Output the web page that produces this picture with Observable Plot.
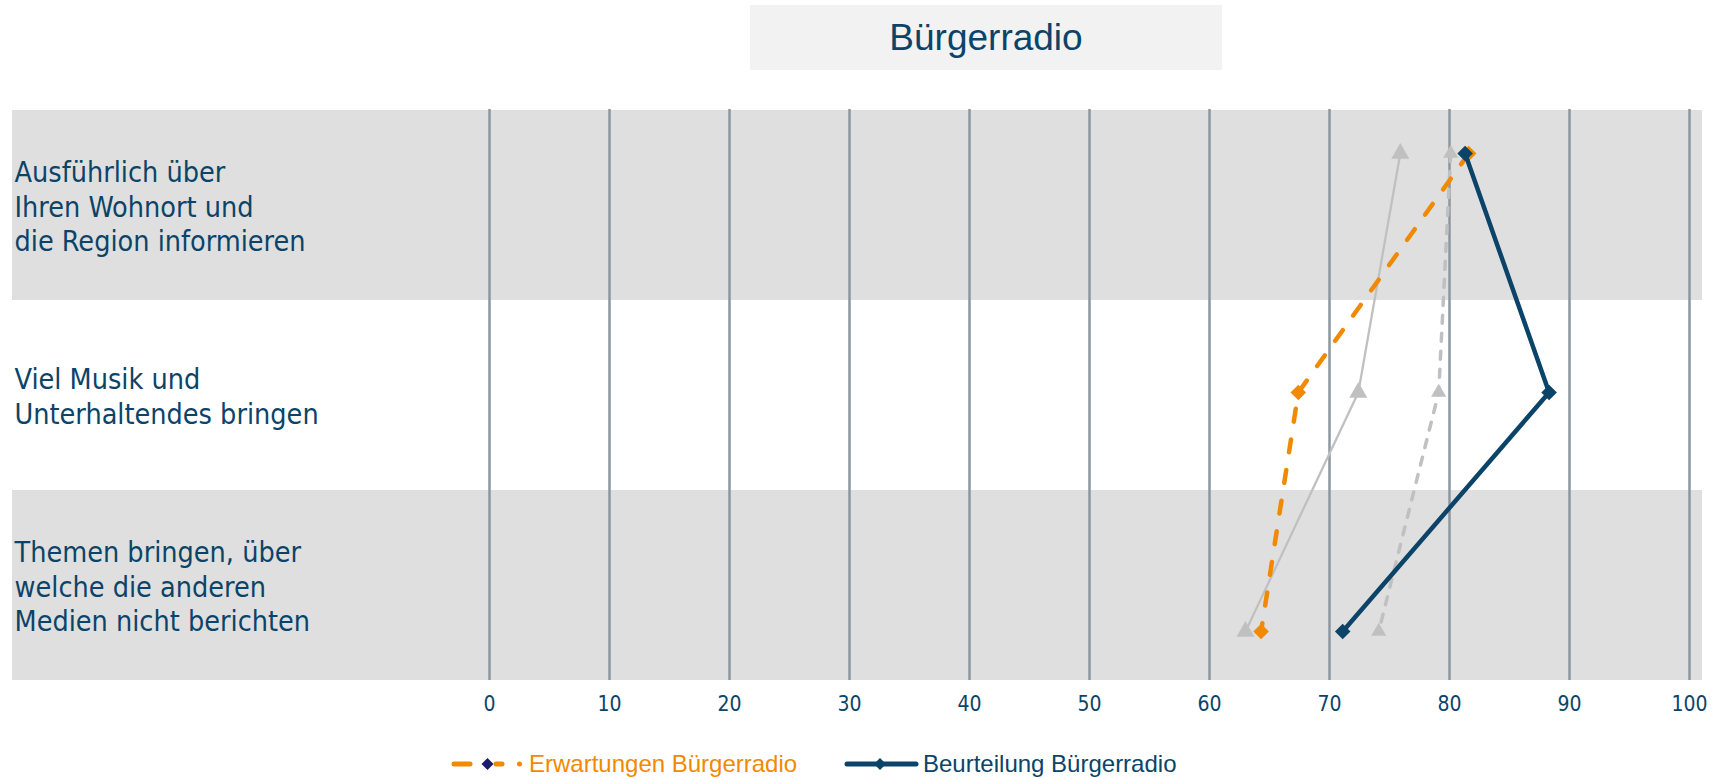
<!DOCTYPE html>
<html>
<head>
<meta charset="utf-8">
<script src="https://cdn.jsdelivr.net/npm/d3@7"></script>
<script src="https://cdn.jsdelivr.net/npm/@observablehq/plot@0.6"></script>
<style>
  html, body { margin: 0; padding: 0; background: #ffffff; }
  #wrap { position: relative; width: 1713px; height: 779px; overflow: hidden; }
  #title { position: absolute; left: 750px; top: 5px; width: 472px; height: 65px; background: #f2f2f2;
           font-family: "Liberation Sans", Arial, sans-serif; font-size: 37px; line-height: 65px; text-align: center; color: #0b4468; }
  .layer { position: absolute; left: 0; top: 90px; }
  .leg { position: absolute; top: 749px; height: 30px; display: flex; align-items: center;
         font-family: "Liberation Sans", Arial, sans-serif; font-size: 24px; white-space: nowrap; }
</style>
</head>
<body>
<div id="wrap">
  <div id="title">Bürgerradio</div>
  <div id="base" class="layer"></div>
  <div id="lines" class="layer"></div>
  <div class="leg" style="left:450px;color:#f18a00;">
    <svg width="76" height="30" style="display:block">
      <line x1="4" y1="15" x2="20" y2="15" stroke="#f18a00" stroke-width="5" stroke-linecap="round"/>
      <path d="M37.5,9 L43.5,15 L37.5,21 L31.5,15 Z" fill="#1b1b6e"/>
      <line x1="46" y1="15" x2="52" y2="15" stroke="#f18a00" stroke-width="5" stroke-linecap="round"/>
      <circle cx="69.5" cy="15" r="2.5" fill="#f18a00"/>
    </svg>
    <span style="margin-left:3px">Erwartungen Bürgerradio</span>
  </div>
  <div class="leg" style="left:844px;color:#0b4468;">
    <svg width="76" height="30" style="display:block">
      <line x1="3" y1="15" x2="72" y2="15" stroke="#0b4468" stroke-width="5" stroke-linecap="round"/>
      <path d="M36,9 L42,15 L36,21 L30,15 Z" fill="#0b4468"/>
    </svg>
    <span style="margin-left:3px">Beurteilung Bürgerradio</span>
  </div>
</div>
<script>
// ---- data ----
const categories = [
  "Ausführlich über\nIhren Wohnort und\ndie Region informieren",
  "Viel Musik und\nUnterhaltendes bringen",
  "Themen bringen, über\nwelche die anderen\nMedien nicht berichten"
];
const erwartungen = [81.6, 67.4, 64.3];   // Erwartungen Bürgerradio (orange, dashed)
const beurteilung = [81.3, 88.3, 71.1];   // Beurteilung Bürgerradio (navy, solid)
const vergleichSolid = [75.9, 72.4, 63.0]; // grey solid, triangles
const vergleichDashed = [80.1, 79.1, 74.1]; // grey dashed, triangles
const xTicks = [0, 10, 20, 30, 40, 50, 60, 70, 80, 90, 100];

const navy = "#0b4468";
const orange = "#f18a00";
const grey = "#c0c0c0";
const fontCond = "'DejaVu Sans Condensed', 'DejaVu Sans', sans-serif";

const W = 1713, H = 640;
const xRange = [489, 1689];

const rows = (vals) => categories.map((c, i) => ({cat: c, v: vals[i]}));

// ---- base layer: bands, grid, labels, x axis ----
const base = Plot.plot({
  width: W, height: H,
  marginTop: 19, marginBottom: 50, marginLeft: 12, marginRight: 11,
  style: {fontFamily: fontCond, background: "transparent"},
  x: {domain: [0, 100], range: xRange},
  y: {type: "band", domain: categories, padding: 0, axis: null},
  marks: [
    Plot.cell(categories.filter((d, i) => i % 2 === 0), {y: d => d, fill: "#dfdfdf"}),
    Plot.ruleX(xTicks, {x: d => d, stroke: "#8c96a1", strokeWidth: 2.5}),
    Plot.text(categories, {y: d => d, text: d => d, frameAnchor: "left", textAnchor: "start", dx: 2,
      fontSize: 28.5, lineHeight: 1.21, fill: navy, fontFamily: fontCond}),
    Plot.axisX(xTicks, {tickSize: 0, tickPadding: 16, fontSize: 21, fill: navy, label: null,
      tickFormat: d => String(d), fontFamily: fontCond})
  ]
});
document.getElementById("base").appendChild(base);

// ---- line layer ----
const lines = Plot.plot({
  width: W, height: H,
  marginTop: 0, marginBottom: 0, marginLeft: 0, marginRight: 0,
  style: {background: "transparent"},
  x: {domain: [0, 100], range: xRange, axis: null},
  y: {type: "point", domain: categories, range: [63, 541], padding: 0, axis: null},
  marks: [
    Plot.line(rows(vergleichSolid), {x: "v", y: "cat", stroke: grey, strokeWidth: 2.3}),
    Plot.dot(rows(vergleichSolid), {x: "v", y: "cat", symbol: "triangle", r: 6.7, fill: grey, stroke: "none"}),
    Plot.line(rows(vergleichDashed), {x: "v", y: "cat", stroke: grey, strokeWidth: 3.5, strokeDasharray: "8,10", strokeLinecap: "round"}),
    Plot.dot(rows(vergleichDashed), {x: "v", y: "cat", symbol: "triangle", r: 5.6, fill: grey, stroke: "none"}),
    Plot.line(rows(erwartungen), {x: "v", y: "cat", stroke: orange, strokeWidth: 4.5, strokeDasharray: "13,18", strokeLinecap: "round"}),
    Plot.dot(rows(erwartungen), {x: "v", y: "cat", symbol: "diamond2", r: 7, fill: orange, stroke: "none"}),
    Plot.line(rows(beurteilung), {x: "v", y: "cat", stroke: navy, strokeWidth: 4.5}),
    Plot.dot(rows(beurteilung), {x: "v", y: "cat", symbol: "diamond2", r: 7, fill: navy, stroke: "none"})
  ]
});
document.getElementById("lines").appendChild(lines);
</script>
</body>
</html>
